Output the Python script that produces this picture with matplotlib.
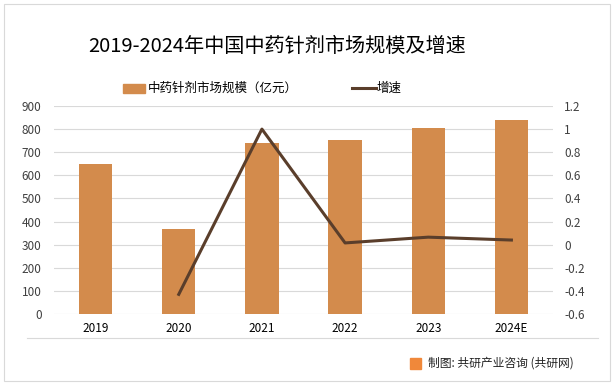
import matplotlib
matplotlib.use("Agg")
import matplotlib.pyplot as plt
from matplotlib.patches import Rectangle
from matplotlib.lines import Line2D

plt.rcParams['font.family'] = ['Noto Sans CJK SC', 'DejaVu Sans']

years = ["2019", "2020", "2021", "2022", "2023", "2024E"]
market_size = [648, 368, 738, 752, 805, 838]
growth_years = ["2020", "2021", "2022", "2023", "2024E"]
growth = [-0.43, 1.0, 0.015, 0.065, 0.04]

bar_color = "#D38B4C"
line_color = "#5A3E2B"

W, H = 614, 386
fig = plt.figure(figsize=(W / 100, H / 100), dpi=100)

def fx(px):
    return px / W

def fy(py):
    return 1 - py / H

ax = fig.add_axes([fx(54), fy(314), fx(553 - 54), (314 - 106) / H])
x = list(range(len(years)))
ax.bar(x, market_size, width=0.4, color=bar_color, zorder=2)
ax.set_ylim(0, 900)
ax.set_yticks(range(0, 901, 100))
ax.set_xlim(-0.5, len(years) - 0.5)
ax.set_xticks(x)
ax.set_xticklabels(years)
ax.grid(axis='y', color="#D9D9D9", linewidth=0.8, zorder=0)
for s in ax.spines.values():
    s.set_visible(False)
ax.tick_params(axis='both', length=0, labelsize=8.5, colors="#404040")
ax.tick_params(axis='y', pad=9)
ax.tick_params(axis='x', pad=6)
for lab in ax.get_xticklabels():
    lab.set_color("black")

ax2 = ax.twinx()
gx = [years.index(y) for y in growth_years]
ax2.plot(gx, growth, color=line_color, linewidth=2.2, zorder=3)
ax2.set_ylim(-0.6, 1.2)
ticks2 = [-0.6, -0.4, -0.2, 0, 0.2, 0.4, 0.6, 0.8, 1, 1.2]
ax2.set_yticks(ticks2)
ax2.set_yticklabels(["-0.6", "-0.4", "-0.2", "0", "0.2", "0.4", "0.6", "0.8", "1", "1.2"])
for s in ax2.spines.values():
    s.set_visible(False)
ax2.tick_params(axis='y', length=0, labelsize=8.5, colors="#404040", pad=8)

# title
fig.text(fx(88), fy(46), "2019-2024年中国中药针剂市场规模及增速", fontsize=14.5,
         ha='left', va='center', color="black")

# legend
fig.patches.append(Rectangle((fx(123), fy(93)), fx(22), 9 / H, color=bar_color,
                             transform=fig.transFigure, figure=fig))
fig.text(fx(148), fy(88), "中药针剂市场规模（亿元）", fontsize=9, ha='left', va='center')
fig.lines.append(Line2D([fx(352), fx(376)], [fy(88), fy(88)], color=line_color,
                        linewidth=2.2, transform=fig.transFigure, figure=fig))
fig.text(fx(377), fy(88), "增速", fontsize=9, ha='left', va='center')

# separator line and border
fig.lines.append(Line2D([fx(27), fx(598)], [fy(338), fy(338)], color="#D9D9D9",
                        linewidth=0.8, transform=fig.transFigure, figure=fig))
fig.patches.append(Rectangle((fx(4), fy(381)), fx(606), (381 - 4) / H, fill=False,
                             edgecolor="#D9D9D9", linewidth=0.8,
                             transform=fig.transFigure, figure=fig))

# footer
fig.patches.append(Rectangle((fx(410), fy(369)), fx(11), 11 / H, color="#F0883A",
                             transform=fig.transFigure, figure=fig))
fig.text(fx(428), fy(363), "制图: 共研产业咨询 (共研网)", fontsize=8.5, ha='left',
         va='center', color="#222222")

fig.savefig("out.png", dpi=100)
